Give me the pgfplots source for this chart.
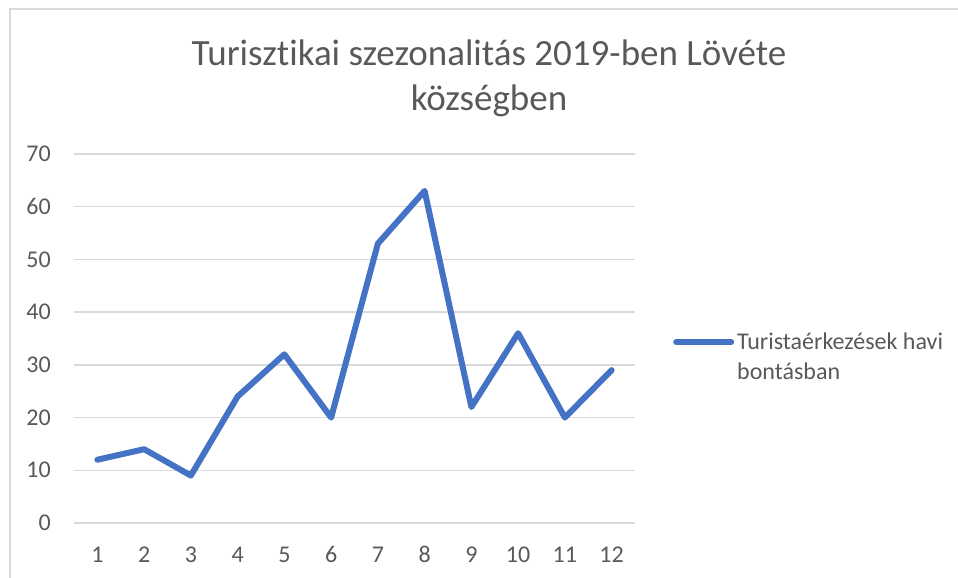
\documentclass[border=0pt]{standalone}
\usepackage{fontspec}
\setmainfont{Carlito}[Ligatures={NoCommon}]
\usepackage{pgfplots}
\pgfplotsset{compat=1.18}
\definecolor{txtgray}{HTML}{595959}
\definecolor{gridgray}{HTML}{D9D9D9}
\definecolor{serblue}{HTML}{4472C4}
\begin{document}
\begin{tikzpicture}
\path[use as bounding box] (0pt,0pt) rectangle (958pt,578pt);
\draw[gridgray, line width=2pt] (10pt,0pt) -- (10pt,569pt) -- (958pt,569pt);
\node[font=\fontsize{37}{45}\selectfont, text=txtgray, align=center, anchor=base] at (489pt,467pt) {Turisztikai szezonalitás 2019-ben Lövéte\\községben};
\begin{axis}[
  at={(74pt,55pt)}, anchor=south west,
  scale only axis, width=561pt, height=369pt,
  xmin=0.5, xmax=12.5, ymin=0, ymax=70,
  xtick={1,...,12}, ytick={0,10,...,70},
  axis line style={draw=none}, tick style={draw=none},
  ymajorgrids, grid style={gridgray, line width=1.5pt},
  /pgf/number format/assume math mode=true,
  xticklabel style={font=\fontsize{24}{29}\selectfont, text=txtgray, inner sep=0pt, anchor=base, yshift=-39pt},
  yticklabel style={font=\fontsize{24}{29}\selectfont, text=txtgray, inner sep=0pt, anchor=east, xshift=-23pt},
  legend style={at={(axis description cs:1.0677,0.515)}, anchor=north west, draw=none, fill=none,
    font=\fontsize{24}{30}\selectfont, text=txtgray, inner sep=0pt,
    cells={align=left, anchor=west}, nodes={inner sep=0pt}},
  legend image code/.code={\draw[#1, line width=6pt, line cap=round] (0pt,15pt) -- (55pt,15pt);},
  legend cell align=left,
  clip=false,
]
\addplot[serblue, line width=6pt, line join=round, line cap=round] coordinates {
(1,12) (2,14) (3,9) (4,24) (5,32) (6,20) (7,53) (8,63) (9,22) (10,36) (11,20) (12,29)};
\addlegendentry{\hspace{3pt}Turistaérkezések havi\\\hspace{3pt}bontásban}
\end{axis}
\end{tikzpicture}
\end{document}
